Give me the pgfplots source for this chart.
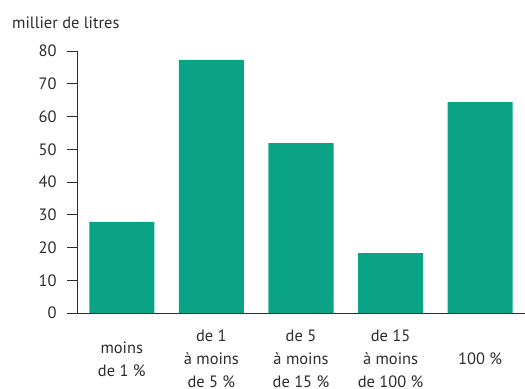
\documentclass[border=0pt]{standalone}
\usepackage{pgfplots}
\pgfplotsset{compat=1.18}
\usepackage{fontspec}
\setmainfont{PT Sans}
\definecolor{barteal}{RGB}{10,163,133}
\definecolor{txt}{RGB}{45,45,45}
\begin{document}
\begin{tikzpicture}
\begin{axis}[
  at={(0,0)}, anchor=south west,
  scale only axis,
  width=448bp, height=262bp,
  xmin=-0.5, xmax=4.5,
  ymin=0, ymax=80,
  axis lines*=left,
  axis line style={txt, line width=0.8bp},
  tick align=outside,
  ytick={0,10,...,80},
  major tick length=10bp,
  minor tick length=5bp,
  xtick={0,1,2,3,4},
  xtick style={draw=none},
  minor xtick={-0.5,0.5,1.5,2.5,3.5},
  tick style={txt, line width=0.8bp},
  xticklabels={{moins\\de 1 \%},{de 1\\à moins\\de 5 \%},{de 5\\à moins\\de 15 \%},{de 15\\à moins\\de 100 \%},{100 \%}},
  xticklabel style={align=center, anchor=center, yshift=-36bp, font=\fontsize{16.5}{23}\selectfont, text=txt},
  yticklabel style={font=\fontsize{16.5}{18}\selectfont, text=txt, xshift=-7bp},
  /pgf/number format/assume math mode=true,
  ybar, bar width=65bp,
]
\addplot[fill=barteal, draw=none] coordinates {(0,27.8) (1,77.3) (2,51.9) (3,18.3) (4,64.4)};
\end{axis}
\node[anchor=base west, text=txt, font=\fontsize{16.5}{18}\selectfont, inner sep=0pt] at (-65bp,284bp) {millier de litres};
\pgfresetboundingbox
\useasboundingbox (-77bp,-76bp) rectangle (448bp,313bp);
\end{tikzpicture}
\end{document}
